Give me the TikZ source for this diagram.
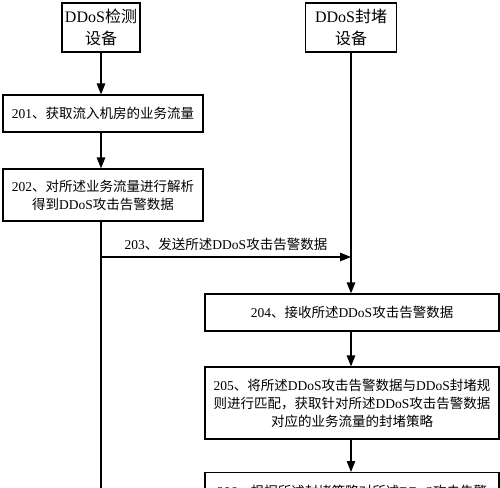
\documentclass[tikz,border=0pt]{standalone}
\usepackage{fontspec}
\setmainfont{Liberation Serif}
\newfontfamily\zh{Noto Sans CJK SC}
\usetikzlibrary{arrows.meta}

% Latin parts of the labels
\newcommand{\en}[1]{{\rmfamily #1}}

\begin{document}
\begin{tikzpicture}[x=1pt, y=-1pt,
  flowbox/.style={draw, line width=1.2pt, align=center, inner sep=2pt,
    font=\zh\fontsize{13.5}{18}\selectfont},
  devbox/.style={flowbox, minimum height=49pt, font=\zh\fontsize{16}{22}\selectfont},
  arr/.style={line width=1.2pt, -{Triangle[length=11pt, width=8.5pt]}},
  lifeline/.style={line width=1.2pt}]
  \path[use as bounding box, clip] (0,0) rectangle (500,487);

  % Devices
  \node[devbox, minimum width=78pt] (detect) at (101,27.5)
    {\en{DDoS}检测\\设备};
  \node[devbox, minimum width=91pt] (block) at (351,27.5)
    {\en{DDoS}封堵\\设备};

  % Steps of the detection device
  \node[flowbox, minimum width=200pt, minimum height=37pt] (s201) at (103,113.5)
    {\en{201}、获取流入机房的业务流量};
  \node[flowbox, minimum width=200pt, minimum height=52pt] (s202) at (103,195)
    {\en{202}、对所述业务流量进行解析\\得到\en{DDoS}攻击告警数据};

  % Steps of the blocking device
  \node[flowbox, minimum width=294pt, minimum height=37pt] (s204) at (352,312.5)
    {\en{204}、接收所述\en{DDoS}攻击告警数据};
  \node[flowbox, minimum width=294pt, minimum height=72pt] (s205) at (352,403)
    {\en{205}、将所述\en{DDoS}攻击告警数据与\en{DDoS}封堵规\\则进行匹配，获取针对所述\en{DDoS}攻击告警数据\\对应的业务流量的封堵策略};
  \node[flowbox, anchor=north, minimum width=294pt, minimum height=38pt] (s206) at (352,472)
    {\en{206}、根据所述封堵策略对所述\en{DDoS}攻击告警};

  % Left lifeline
  \coordinate (send) at (101,257);
  \coordinate (leftend) at (101,500);
  \draw[arr] (detect.south) -- (detect.south |- s201.north);
  \draw[arr] (detect |- s201.south) -- (detect |- s202.north);
  \draw[lifeline] (detect |- s202.south) -- (leftend);

  % Message 203
  \draw[arr] (send) -- (send -| block)
    node[midway, above=2pt, font=\zh\fontsize{13.5}{18}\selectfont] (m203)
    {\en{203}、发送所述\en{DDoS}攻击告警数据};

  % Right lifeline
  \draw[arr] (block.south) -- (block.south |- s204.north);
  \draw[arr] (block |- s204.south) -- (block |- s205.north);
  \draw[arr] (block |- s205.south) -- (block |- s206.north);
\end{tikzpicture}
\end{document}
